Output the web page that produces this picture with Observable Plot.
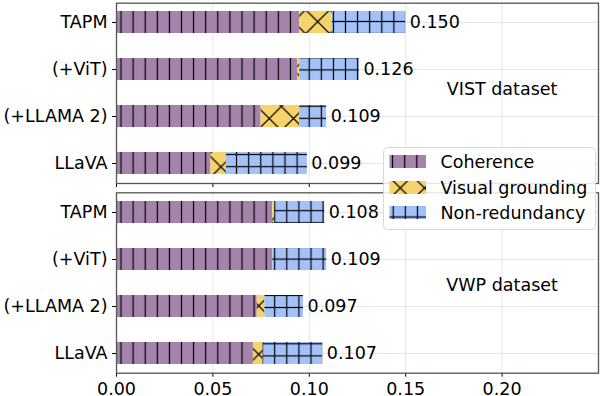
<!DOCTYPE html>
<html><head><meta charset="utf-8">
<script src="https://cdn.jsdelivr.net/npm/d3@7"></script>
<script src="https://cdn.jsdelivr.net/npm/@observablehq/plot@0.6"></script>
<style>
body{margin:0;background:#fff;}
#wrap{position:relative;width:602px;height:396px;overflow:hidden;font-family:"DejaVu Sans",sans-serif;background:#fff;}
#wrap svg{position:absolute;left:0;overflow:visible;}
</style></head><body><div id="wrap"></div>
<script>
const models = ["TAPM", "(+ViT)", "(+LLAMA 2)", "LLaVA"];
const metrics = ["Coherence", "Visual grounding", "Non-redundancy"];
const vistCoherence = [0.095, 0.094, 0.075, 0.049];
const vistVisual    = [0.017, 0.001, 0.020, 0.008];
const vistNonRed    = [0.038, 0.031, 0.014, 0.042];
const vistTotals    = [0.150, 0.126, 0.109, 0.099];
const vwpCoherence  = [0.081, 0.081, 0.073, 0.071];
const vwpVisual     = [0.001, 0.000, 0.004, 0.005];
const vwpNonRed     = [0.026, 0.028, 0.020, 0.031];
const vwpTotals     = [0.108, 0.109, 0.097, 0.107];
const xTicks = [0, 0.05, 0.10, 0.15, 0.20];
const datasetNames = ["VIST dataset", "VWP dataset"];

const COL = {coh: "#a584ac", vis: "#f6d46b", nr: "#a4c2f8"};
const P = 12.1, Q = 24.2, SW = 1.2;

function addPatterns(svg, sfx, ph) {
  const defs = d3.select(svg).insert("defs", ":first-child");
  let p = defs.append("pattern").attr("id", `coh-${sfx}`).attr("patternUnits", "userSpaceOnUse")
    .attr("width", P).attr("height", P).attr("x", ph.cohX - P / 2).attr("y", 0);
  p.append("rect").attr("width", P).attr("height", P).attr("fill", COL.coh);
  p.append("line").attr("x1", P / 2).attr("x2", P / 2).attr("y1", -1).attr("y2", P + 1).attr("stroke", "#000").attr("stroke-width", SW);

  p = defs.append("pattern").attr("id", `vis-${sfx}`).attr("patternUnits", "userSpaceOnUse")
    .attr("width", Q).attr("height", Q).attr("x", ph.visX - Q / 2).attr("y", ph.visY - Q / 2);
  p.append("rect").attr("width", Q).attr("height", Q).attr("fill", COL.vis);
  p.append("path").attr("d", `M-1,-1L${Q + 1},${Q + 1}M${Q + 1},-1L-1,${Q + 1}`).attr("stroke", "#000").attr("stroke-width", SW).attr("fill", "none");

  p = defs.append("pattern").attr("id", `nr-${sfx}`).attr("patternUnits", "userSpaceOnUse")
    .attr("width", P).attr("height", P).attr("x", ph.nrX - P / 2).attr("y", ph.nrY - P / 2);
  p.append("rect").attr("width", P).attr("height", P).attr("fill", COL.nr);
  p.append("line").attr("x1", P / 2).attr("x2", P / 2).attr("y1", -1).attr("y2", P + 1).attr("stroke", "#000").attr("stroke-width", SW);
  p.append("line").attr("y1", P / 2).attr("y2", P / 2).attr("x1", -1).attr("x2", P + 1).attr("stroke", "#000").attr("stroke-width", SW);
}

function panel(name, coh, vis, nr, totals, o) {
  const sfx = o.id;
  const fillFor = {
    "Coherence": `url(#coh-${sfx})`,
    "Visual grounding": `url(#vis-${sfx})`,
    "Non-redundancy": `url(#nr-${sfx})`
  };
  const rows = [];
  models.forEach((m, i) => {
    rows.push({model: m, metric: metrics[0], value: coh[i]});
    rows.push({model: m, metric: metrics[1], value: vis[i]});
    rows.push({model: m, metric: metrics[2], value: nr[i]});
  });
  const totalRows = models.map((m, i) => ({model: m, total: totals[i]}));
  const svg = Plot.plot({
    width: 602, height: o.height,
    marginTop: o.mt, marginBottom: o.mb, marginLeft: 116, marginRight: 4,
    style: {fontFamily: "'DejaVu Sans', sans-serif", fontSize: "17.5px", color: "#000", background: "transparent", overflow: "visible"},
    x: {domain: [0, 0.25], ticks: xTicks, tickFormat: o.showX ? d3.format(".2f") : () => "", label: null, tickSize: 4, tickPadding: 5.5},
    y: {domain: models, paddingInner: 0.535, paddingOuter: 0.175, label: null, tickSize: 4, tickPadding: 5},
    color: {type: "identity"},
    marks: [
      Plot.gridX(xTicks, {stroke: "#e6e6e6", strokeOpacity: 1}),
      Plot.gridY(models, {stroke: "#e6e6e6", strokeOpacity: 1}),
      Plot.barX(rows, Plot.stackX({x: "value", y: "model", fill: d => fillFor[d.metric], order: null})),
      Plot.text(totalRows, {x: "total", y: "model", text: d => d3.format(".3f")(d.total), textAnchor: "start", dx: 4, fontSize: 17.5, fill: "#000"}),
      Plot.text([{x: 0.2, label: name}], {x: "x", text: "label", frameAnchor: "middle", dy: o.labelDy, fontSize: 17.5, fill: "#000"}),
      Plot.frame({stroke: "#555", strokeWidth: 1.3})
    ]
  });
  addPatterns(svg, sfx, o.ph);
  svg.style.top = o.top + "px";
  return svg;
}

const wrap = document.getElementById("wrap");
wrap.appendChild(panel(datasetNames[0], vistCoherence, vistVisual, vistNonRed, vistTotals,
  {id: "a", height: 190, mt: 2.7, mb: 7, top: 0, showX: false, labelDy: -3.5,
   ph: {cohX: 121, visX: 317.7, visY: 21.7, nrX: 127.7, nrY: 21.5}}));
wrap.appendChild(panel(datasetNames[1], vwpCoherence, vwpVisual, vwpNonRed, vwpTotals,
  {id: "b", height: 208, mt: 4.3, mb: 23.3, top: 188, showX: true, labelDy: 2.5,
   ph: {cohX: 121, visX: 258.7, visY: 166.3, nrX: 129.5, nrY: 22.7}}));

// legend
const lg = d3.select(wrap).append("svg").attr("width", 213).attr("height", 83)
  .style("left", "382.5px").style("top", "147px");
lg.append("rect").attr("x", 0.5).attr("y", 0.5).attr("width", 212).attr("height", 82).attr("rx", 4)
  .attr("fill", "#fff").attr("fill-opacity", 0.85).attr("stroke", "#d9d9d9");
addPatterns(lg.node(), "lg", {cohX: 9.6, visX: 17.3, visY: 41, nrX: 10.2, nrY: 70});
const lgRows = [
  {label: metrics[0], id: "coh", cy: 14.5},
  {label: metrics[1], id: "vis", cy: 40.5},
  {label: metrics[2], id: "nr", cy: 65.5}
];
lgRows.forEach(r => {
  lg.append("rect").attr("x", 6.5).attr("y", r.cy - 6.5).attr("width", 36.5).attr("height", 13)
    .attr("fill", `url(#${r.id}-lg)`);
  lg.append("text").attr("x", 57.5).attr("y", r.cy).attr("dy", "0.35em")
    .attr("font-family", "'DejaVu Sans', sans-serif").attr("font-size", 17.5).attr("fill", "#000").text(r.label);
});
</script></body></html>
